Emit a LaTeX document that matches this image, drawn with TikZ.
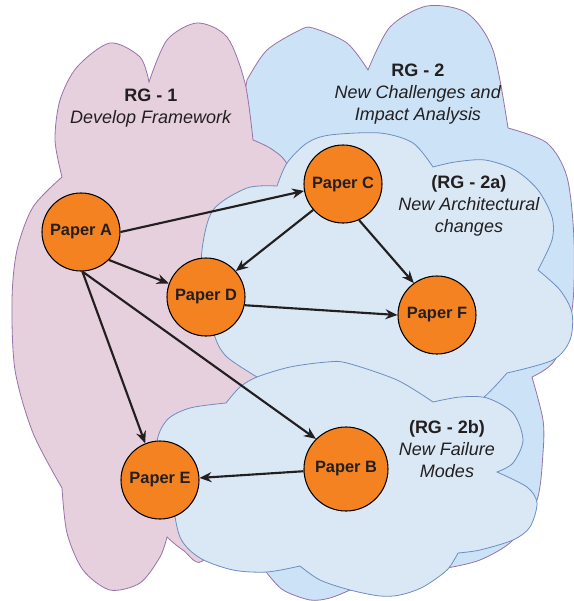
\documentclass[tikz,border=0pt]{standalone}
\usepackage{fontspec}
\setmainfont{Liberation Sans}
\usetikzlibrary{arrows.meta}
\definecolor{pinkfill}{HTML}{E6D0DE}
\definecolor{purpleline}{HTML}{9673A6}
\definecolor{bluefill}{HTML}{CCE2F6}
\definecolor{lightblue}{HTML}{DAE8F5}
\definecolor{blueline}{HTML}{6C8EBF}
\definecolor{paperorange}{HTML}{F58220}
\definecolor{darktext}{HTML}{231F20}

\begin{document}
\begin{tikzpicture}[x=0.75pt, y=-0.75pt,
  paper/.style={circle, draw=black, line width=0.8pt, fill=paperorange, minimum size=58.5pt, inner sep=0pt, text=darktext, font=\fontsize{12.3}{14}\selectfont\bfseries},
  rglabel/.style={align=center, text=darktext, font=\fontsize{13.5}{16.5}\selectfont},
  link/.style={-{Stealth[length=9pt,width=7.5pt]}, line width=1.6pt, draw=darktext}]
\useasboundingbox (0,0) rectangle (574,601);

\filldraw[fill=bluefill, draw=purpleline, line width=0.6pt]
  plot[smooth] coordinates {(247,80) (267,50) (300,30) (313,28) (347,43) (368,70)}
  -- plot[smooth] coordinates {(368,70) (390,27) (427,6) (467,13) (493,50) (508,128)}
  -- plot[smooth] coordinates {(508,128) (547,143) (567,177) (574,240) (572,310) (555,360) (532,377)}
  -- plot[smooth] coordinates {(532,377) (543,420) (543,453) (537,500) (513,540) (480,560) (447,568)}
  -- plot[smooth] coordinates {(447,568) (400,585) (350,590)}
  -- plot[smooth] coordinates {(350,590) (330,598) (310,600) (283,590) (267,573)}
  -- plot[smooth] coordinates {(267,573) (235,530) (225,400) (232,250) (240,130) (247,80)}
  -- cycle;

\filldraw[fill=pinkfill, draw=purpleline, line width=0.6pt]
  plot[smooth] coordinates {(62,177) (55,140) (60,100) (77,67) (110,43) (140,57) (149,82)}
  -- plot[smooth] coordinates {(149,82) (167,40) (197,23) (227,37) (245,83) (253,140)}
  -- plot[smooth] coordinates {(253,140) (273,150) (290,170) (315,250) (300,360) (240,460) (205,558) (183,550) (167,537)}
  -- plot[smooth] coordinates {(167,537) (160,557) (140,583) (110,590) (83,570) (67,533) (62,488)}
  -- plot[smooth] coordinates {(62,488) (33,433) (15,370) (12,300) (17,250) (33,207) (62,177)}
  -- cycle;

\filldraw[fill=lightblue, draw=blueline, line width=0.6pt]
  plot[smooth] coordinates {(277,186) (287,163) (307,143) (330,135) (380,133) (413,143) (433,167)}
  -- plot[smooth] coordinates {(433,167) (455,162) (485,160) (515,170) (538,190) (552,217) (552,240) (538,270)}
  -- plot[smooth] coordinates {(538,270) (560,290) (572,313) (570,340) (553,360) (507,373)}
  -- plot[smooth] coordinates {(507,373) (483,398) (440,430) (350,430) (280,400) (257,377)}
  -- plot[smooth] coordinates {(257,377) (227,357) (215,337) (203,290) (202,250) (213,210) (247,188) (277,186)}
  -- cycle;

\filldraw[fill=lightblue, draw=blueline, line width=0.6pt]
  plot[smooth] coordinates {(226,403) (240,387) (257,377) (290,367) (327,362) (347,363) (397,380) (433,402)}
  -- plot[smooth] coordinates {(433,402) (460,397) (487,398) (513,413) (523,440) (513,463) (497,472)}
  -- plot[smooth] coordinates {(497,472) (527,487) (537,503) (530,527) (513,540) (480,550) (458,553)}
  -- plot[smooth] coordinates {(458,553) (447,570) (423,587) (400,595) (380,596) (350,590) (320,580) (300,566)}
  -- plot[smooth] coordinates {(300,566) (267,572) (233,570) (200,558) (180,537) (170,490) (157,445) (167,420) (190,408) (226,403)}
  -- cycle;

\node[rglabel] (rg1) at (151,108) {\textbf{RG - 1}\\\textit{Develop Framework}};
\node[rglabel] (rg2) at (418,94) {\textbf{RG - 2}\\\textit{New Challenges and}\\\textit{Impact Analysis}};
\node[rglabel] (rg2a) at (469,206) {\textbf{(RG - 2a)}\\\textit{New Architectural}\\\textit{changes}};
\node[rglabel] (rg2b) at (447,449) {\textbf{(RG - 2b)}\\\textit{New Failure}\\\textit{Modes}};

\node[paper] (A) at (81,232) {Paper A};
\node[paper] (C) at (343,184) {Paper C};
\node[paper] (D) at (206,297) {Paper D};
\node[paper] (F) at (437,315) {Paper F};
\node[paper] (E) at (160,480) {Paper E};
\node[paper, minimum size=63pt] (B) at (346,469) {Paper B};

\draw[link] (A.east) -- (C.190);
\draw[link] (A.-45) -- (D.160);
\draw[link] (A.-88) -- (E.112);
\draw[link] (A.-88) -- (B.135);
\draw[link] (C.221) -- (D.41);
\draw[link] (C.-66) -- (F.126);
\draw[link] (D.-12) -- (F.west);
\draw[link] (B.183) -- (E.3);
\end{tikzpicture}
\end{document}
